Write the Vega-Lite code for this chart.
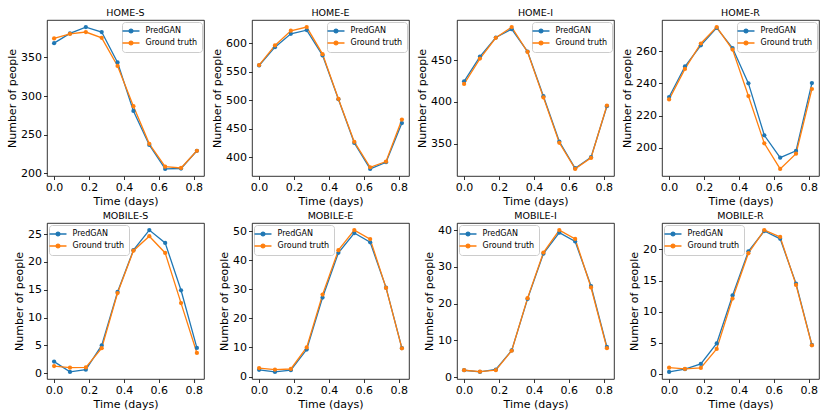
{
  "$schema": "https://vega.github.io/schema/vega-lite/v6.json",
  "background": "white",
  "padding": {"left": 6, "top": 7, "right": 5, "bottom": 5},
  "datasets": {
    "d": [
      {"p": "HOME-S", "t": 0, "PredGAN": 368.6, "Ground truth": 374.7},
      {"p": "HOME-S", "t": 0.0909, "PredGAN": 381.2, "Ground truth": 380.5},
      {"p": "HOME-S", "t": 0.1818, "PredGAN": 389.4, "Ground truth": 383},
      {"p": "HOME-S", "t": 0.2727, "PredGAN": 383, "Ground truth": 375.5},
      {"p": "HOME-S", "t": 0.3636, "PredGAN": 343.5, "Ground truth": 339},
      {"p": "HOME-S", "t": 0.4545, "PredGAN": 280.7, "Ground truth": 286.8},
      {"p": "HOME-S", "t": 0.5455, "PredGAN": 236.6, "Ground truth": 238},
      {"p": "HOME-S", "t": 0.6364, "PredGAN": 205.5, "Ground truth": 208.4},
      {"p": "HOME-S", "t": 0.7273, "PredGAN": 206, "Ground truth": 206.7},
      {"p": "HOME-S", "t": 0.8182, "PredGAN": 229, "Ground truth": 229},
      {"p": "HOME-E", "t": 0, "PredGAN": 561.3, "Ground truth": 562},
      {"p": "HOME-E", "t": 0.0909, "PredGAN": 593.5, "Ground truth": 596.5},
      {"p": "HOME-E", "t": 0.1818, "PredGAN": 617, "Ground truth": 622.3},
      {"p": "HOME-E", "t": 0.2727, "PredGAN": 623.4, "Ground truth": 628.7},
      {"p": "HOME-E", "t": 0.3636, "PredGAN": 579, "Ground truth": 581.2},
      {"p": "HOME-E", "t": 0.4545, "PredGAN": 502, "Ground truth": 502.5},
      {"p": "HOME-E", "t": 0.5455, "PredGAN": 425.2, "Ground truth": 427},
      {"p": "HOME-E", "t": 0.6364, "PredGAN": 379.5, "Ground truth": 382.4},
      {"p": "HOME-E", "t": 0.7273, "PredGAN": 391.2, "Ground truth": 392.4},
      {"p": "HOME-E", "t": 0.8182, "PredGAN": 460, "Ground truth": 466.2},
      {"p": "HOME-I", "t": 0, "PredGAN": 424.7, "Ground truth": 421.5},
      {"p": "HOME-I", "t": 0.0909, "PredGAN": 454.4, "Ground truth": 452},
      {"p": "HOME-I", "t": 0.1818, "PredGAN": 477.3, "Ground truth": 477},
      {"p": "HOME-I", "t": 0.2727, "PredGAN": 487.3, "Ground truth": 489.8},
      {"p": "HOME-I", "t": 0.3636, "PredGAN": 460.4, "Ground truth": 460},
      {"p": "HOME-I", "t": 0.4545, "PredGAN": 406.8, "Ground truth": 405.4},
      {"p": "HOME-I", "t": 0.5455, "PredGAN": 352.4, "Ground truth": 350.8},
      {"p": "HOME-I", "t": 0.6364, "PredGAN": 320.3, "Ground truth": 319.5},
      {"p": "HOME-I", "t": 0.7273, "PredGAN": 333.5, "Ground truth": 332.7},
      {"p": "HOME-I", "t": 0.8182, "PredGAN": 394.8, "Ground truth": 395.6},
      {"p": "HOME-R", "t": 0, "PredGAN": 231.5, "Ground truth": 230},
      {"p": "HOME-R", "t": 0.0909, "PredGAN": 250.5, "Ground truth": 249},
      {"p": "HOME-R", "t": 0.1818, "PredGAN": 263.7, "Ground truth": 264.8},
      {"p": "HOME-R", "t": 0.2727, "PredGAN": 274.5, "Ground truth": 275},
      {"p": "HOME-R", "t": 0.3636, "PredGAN": 262, "Ground truth": 261},
      {"p": "HOME-R", "t": 0.4545, "PredGAN": 240, "Ground truth": 232.1},
      {"p": "HOME-R", "t": 0.5455, "PredGAN": 207.7, "Ground truth": 202.7},
      {"p": "HOME-R", "t": 0.6364, "PredGAN": 193.8, "Ground truth": 186.8},
      {"p": "HOME-R", "t": 0.7273, "PredGAN": 198, "Ground truth": 196.3},
      {"p": "HOME-R", "t": 0.8182, "PredGAN": 240.2, "Ground truth": 236.5},
      {"p": "MOBILE-S", "t": 0, "PredGAN": 2.1, "Ground truth": 1.3},
      {"p": "MOBILE-S", "t": 0.0909, "PredGAN": 0.25, "Ground truth": 1.0},
      {"p": "MOBILE-S", "t": 0.1818, "PredGAN": 0.65, "Ground truth": 1.05},
      {"p": "MOBILE-S", "t": 0.2727, "PredGAN": 5.0, "Ground truth": 4.5},
      {"p": "MOBILE-S", "t": 0.3636, "PredGAN": 14.6, "Ground truth": 14.4},
      {"p": "MOBILE-S", "t": 0.4545, "PredGAN": 22.1, "Ground truth": 22.0},
      {"p": "MOBILE-S", "t": 0.5455, "PredGAN": 25.7, "Ground truth": 24.6},
      {"p": "MOBILE-S", "t": 0.6364, "PredGAN": 23.4, "Ground truth": 21.6},
      {"p": "MOBILE-S", "t": 0.7273, "PredGAN": 14.9, "Ground truth": 12.6},
      {"p": "MOBILE-S", "t": 0.8182, "PredGAN": 4.55, "Ground truth": 3.65},
      {"p": "MOBILE-E", "t": 0, "PredGAN": 2.3, "Ground truth": 2.9},
      {"p": "MOBILE-E", "t": 0.0909, "PredGAN": 1.6, "Ground truth": 2.4},
      {"p": "MOBILE-E", "t": 0.1818, "PredGAN": 2.2, "Ground truth": 2.6},
      {"p": "MOBILE-E", "t": 0.2727, "PredGAN": 9.3, "Ground truth": 10.0},
      {"p": "MOBILE-E", "t": 0.3636, "PredGAN": 27.2, "Ground truth": 28.2},
      {"p": "MOBILE-E", "t": 0.4545, "PredGAN": 42.6, "Ground truth": 43.5},
      {"p": "MOBILE-E", "t": 0.5455, "PredGAN": 49.4, "Ground truth": 50.4},
      {"p": "MOBILE-E", "t": 0.6364, "PredGAN": 46.2, "Ground truth": 47.3},
      {"p": "MOBILE-E", "t": 0.7273, "PredGAN": 30.6, "Ground truth": 30.5},
      {"p": "MOBILE-E", "t": 0.8182, "PredGAN": 9.8, "Ground truth": 9.7},
      {"p": "MOBILE-I", "t": 0, "PredGAN": 1.9, "Ground truth": 1.9},
      {"p": "MOBILE-I", "t": 0.0909, "PredGAN": 1.45, "Ground truth": 1.5},
      {"p": "MOBILE-I", "t": 0.1818, "PredGAN": 2.1, "Ground truth": 1.9},
      {"p": "MOBILE-I", "t": 0.2727, "PredGAN": 7.3, "Ground truth": 7.2},
      {"p": "MOBILE-I", "t": 0.3636, "PredGAN": 21.3, "Ground truth": 21.5},
      {"p": "MOBILE-I", "t": 0.4545, "PredGAN": 33.6, "Ground truth": 33.9},
      {"p": "MOBILE-I", "t": 0.5455, "PredGAN": 39.3, "Ground truth": 40.0},
      {"p": "MOBILE-I", "t": 0.6364, "PredGAN": 36.9, "Ground truth": 37.6},
      {"p": "MOBILE-I", "t": 0.7273, "PredGAN": 24.8, "Ground truth": 24.4},
      {"p": "MOBILE-I", "t": 0.8182, "PredGAN": 8.25, "Ground truth": 7.9},
      {"p": "MOBILE-R", "t": 0, "PredGAN": 0.32, "Ground truth": 1.0},
      {"p": "MOBILE-R", "t": 0.0909, "PredGAN": 0.75, "Ground truth": 0.8},
      {"p": "MOBILE-R", "t": 0.1818, "PredGAN": 1.6, "Ground truth": 0.95},
      {"p": "MOBILE-R", "t": 0.2727, "PredGAN": 4.9, "Ground truth": 4.0},
      {"p": "MOBILE-R", "t": 0.3636, "PredGAN": 12.6, "Ground truth": 12.1},
      {"p": "MOBILE-R", "t": 0.4545, "PredGAN": 19.7, "Ground truth": 19.4},
      {"p": "MOBILE-R", "t": 0.5455, "PredGAN": 22.95, "Ground truth": 23.1},
      {"p": "MOBILE-R", "t": 0.6364, "PredGAN": 21.7, "Ground truth": 22.0},
      {"p": "MOBILE-R", "t": 0.7273, "PredGAN": 14.5, "Ground truth": 14.3},
      {"p": "MOBILE-R", "t": 0.8182, "PredGAN": 4.65, "Ground truth": 4.6}
    ]
  },
  "columns": 4,
  "spacing": {"column": 6, "row": 3},
  "resolve": {"scale": {"x": "independent", "y": "independent"}, "legend": {"color": "independent"}},
  "concat": [
    {"title": {"text": "HOME-S", "fontWeight": 400, "fontSize": 9.5}, "width": 157, "height": 156, "data": {"name": "d"},
     "transform": [{"filter": "datum.p === 'HOME-S'"}, {"fold": ["PredGAN", "Ground truth"], "as": ["s", "v"]}],
     "mark": {"type": "line", "strokeWidth": 1.3, "point": {"filled": true, "size": 18}},
     "encoding": {
       "x": {"field": "t", "type": "quantitative", "scale": {"zero": false, "nice": false, "padding": 7.1}, "axis": {"values": [0, 0.2, 0.4, 0.6, 0.8], "format": ".1f", "title": "Time (days)"}},
       "y": {"field": "v", "type": "quantitative", "scale": {"zero": false, "nice": false, "padding": 7.1}, "axis": {"title": "Number of people"}},
       "color": {"field": "s", "type": "nominal", "sort": ["PredGAN", "Ground truth"], "scale": {"domain": ["PredGAN", "Ground truth"], "range": ["#1f77b4", "#ff7f0e"]}, "legend": {"orient": "top-right", "title": null}}
     }},
    {"title": {"text": "HOME-E", "fontWeight": 400, "fontSize": 9.5}, "width": 157, "height": 156, "data": {"name": "d"},
     "transform": [{"filter": "datum.p === 'HOME-E'"}, {"fold": ["PredGAN", "Ground truth"], "as": ["s", "v"]}],
     "mark": {"type": "line", "strokeWidth": 1.3, "point": {"filled": true, "size": 18}},
     "encoding": {
       "x": {"field": "t", "type": "quantitative", "scale": {"zero": false, "nice": false, "padding": 7.1}, "axis": {"values": [0, 0.2, 0.4, 0.6, 0.8], "format": ".1f", "title": "Time (days)"}},
       "y": {"field": "v", "type": "quantitative", "scale": {"zero": false, "nice": false, "padding": 7.1}, "axis": {"title": "Number of people"}},
       "color": {"field": "s", "type": "nominal", "sort": ["PredGAN", "Ground truth"], "scale": {"domain": ["PredGAN", "Ground truth"], "range": ["#1f77b4", "#ff7f0e"]}, "legend": {"orient": "top-right", "title": null}}
     }},
    {"title": {"text": "HOME-I", "fontWeight": 400, "fontSize": 9.5}, "width": 157, "height": 156, "data": {"name": "d"},
     "transform": [{"filter": "datum.p === 'HOME-I'"}, {"fold": ["PredGAN", "Ground truth"], "as": ["s", "v"]}],
     "mark": {"type": "line", "strokeWidth": 1.3, "point": {"filled": true, "size": 18}},
     "encoding": {
       "x": {"field": "t", "type": "quantitative", "scale": {"zero": false, "nice": false, "padding": 7.1}, "axis": {"values": [0, 0.2, 0.4, 0.6, 0.8], "format": ".1f", "title": "Time (days)"}},
       "y": {"field": "v", "type": "quantitative", "scale": {"zero": false, "nice": false, "padding": 7.1}, "axis": {"title": "Number of people"}},
       "color": {"field": "s", "type": "nominal", "sort": ["PredGAN", "Ground truth"], "scale": {"domain": ["PredGAN", "Ground truth"], "range": ["#1f77b4", "#ff7f0e"]}, "legend": {"orient": "top-right", "title": null}}
     }},
    {"title": {"text": "HOME-R", "fontWeight": 400, "fontSize": 9.5}, "width": 157, "height": 156, "data": {"name": "d"},
     "transform": [{"filter": "datum.p === 'HOME-R'"}, {"fold": ["PredGAN", "Ground truth"], "as": ["s", "v"]}],
     "mark": {"type": "line", "strokeWidth": 1.3, "point": {"filled": true, "size": 18}},
     "encoding": {
       "x": {"field": "t", "type": "quantitative", "scale": {"zero": false, "nice": false, "padding": 7.1}, "axis": {"values": [0, 0.2, 0.4, 0.6, 0.8], "format": ".1f", "title": "Time (days)"}},
       "y": {"field": "v", "type": "quantitative", "scale": {"zero": false, "nice": false, "padding": 7.1}, "axis": {"title": "Number of people"}},
       "color": {"field": "s", "type": "nominal", "sort": ["PredGAN", "Ground truth"], "scale": {"domain": ["PredGAN", "Ground truth"], "range": ["#1f77b4", "#ff7f0e"]}, "legend": {"orient": "top-right", "title": null}}
     }},
    {"title": {"text": "MOBILE-S", "fontWeight": 400, "fontSize": 9.5}, "width": 157, "height": 156, "data": {"name": "d"},
     "transform": [{"filter": "datum.p === 'MOBILE-S'"}, {"fold": ["PredGAN", "Ground truth"], "as": ["s", "v"]}],
     "mark": {"type": "line", "strokeWidth": 1.3, "point": {"filled": true, "size": 18}},
     "encoding": {
       "x": {"field": "t", "type": "quantitative", "scale": {"zero": false, "nice": false, "padding": 7.1}, "axis": {"values": [0, 0.2, 0.4, 0.6, 0.8], "format": ".1f", "title": "Time (days)"}},
       "y": {"field": "v", "type": "quantitative", "scale": {"zero": false, "nice": false, "padding": 7.1}, "axis": {"title": "Number of people"}},
       "color": {"field": "s", "type": "nominal", "sort": ["PredGAN", "Ground truth"], "scale": {"domain": ["PredGAN", "Ground truth"], "range": ["#1f77b4", "#ff7f0e"]}, "legend": {"orient": "top-left", "title": null}}
     }},
    {"title": {"text": "MOBILE-E", "fontWeight": 400, "fontSize": 9.5}, "width": 157, "height": 156, "data": {"name": "d"},
     "transform": [{"filter": "datum.p === 'MOBILE-E'"}, {"fold": ["PredGAN", "Ground truth"], "as": ["s", "v"]}],
     "mark": {"type": "line", "strokeWidth": 1.3, "point": {"filled": true, "size": 18}},
     "encoding": {
       "x": {"field": "t", "type": "quantitative", "scale": {"zero": false, "nice": false, "padding": 7.1}, "axis": {"values": [0, 0.2, 0.4, 0.6, 0.8], "format": ".1f", "title": "Time (days)"}},
       "y": {"field": "v", "type": "quantitative", "scale": {"zero": false, "nice": false, "padding": 7.1}, "axis": {"title": "Number of people"}},
       "color": {"field": "s", "type": "nominal", "sort": ["PredGAN", "Ground truth"], "scale": {"domain": ["PredGAN", "Ground truth"], "range": ["#1f77b4", "#ff7f0e"]}, "legend": {"orient": "top-left", "title": null}}
     }},
    {"title": {"text": "MOBILE-I", "fontWeight": 400, "fontSize": 9.5}, "width": 157, "height": 156, "data": {"name": "d"},
     "transform": [{"filter": "datum.p === 'MOBILE-I'"}, {"fold": ["PredGAN", "Ground truth"], "as": ["s", "v"]}],
     "mark": {"type": "line", "strokeWidth": 1.3, "point": {"filled": true, "size": 18}},
     "encoding": {
       "x": {"field": "t", "type": "quantitative", "scale": {"zero": false, "nice": false, "padding": 7.1}, "axis": {"values": [0, 0.2, 0.4, 0.6, 0.8], "format": ".1f", "title": "Time (days)"}},
       "y": {"field": "v", "type": "quantitative", "scale": {"zero": false, "nice": false, "padding": 7.1}, "axis": {"title": "Number of people"}},
       "color": {"field": "s", "type": "nominal", "sort": ["PredGAN", "Ground truth"], "scale": {"domain": ["PredGAN", "Ground truth"], "range": ["#1f77b4", "#ff7f0e"]}, "legend": {"orient": "top-left", "title": null}}
     }},
    {"title": {"text": "MOBILE-R", "fontWeight": 400, "fontSize": 9.5}, "width": 157, "height": 156, "data": {"name": "d"},
     "transform": [{"filter": "datum.p === 'MOBILE-R'"}, {"fold": ["PredGAN", "Ground truth"], "as": ["s", "v"]}],
     "mark": {"type": "line", "strokeWidth": 1.3, "point": {"filled": true, "size": 18}},
     "encoding": {
       "x": {"field": "t", "type": "quantitative", "scale": {"zero": false, "nice": false, "padding": 7.1}, "axis": {"values": [0, 0.2, 0.4, 0.6, 0.8], "format": ".1f", "title": "Time (days)"}},
       "y": {"field": "v", "type": "quantitative", "scale": {"zero": false, "nice": false, "padding": 7.1}, "axis": {"title": "Number of people"}},
       "color": {"field": "s", "type": "nominal", "sort": ["PredGAN", "Ground truth"], "scale": {"domain": ["PredGAN", "Ground truth"], "range": ["#1f77b4", "#ff7f0e"]}, "legend": {"orient": "top-left", "title": null}}
     }}
  ],
  "config": {
    "font": "DejaVu Sans",
    "view": {"stroke": "black", "strokeWidth": 0.8},
    "title": {"fontSize": 9.5, "fontWeight": "normal", "color": "black", "offset": 3, "font": "DejaVu Sans"},
    "style": {"group-title": {"fontSize": 9.5, "fontWeight": "normal", "color": "black", "font": "DejaVu Sans"}},
    "axis": {
      "domain": false, "grid": false, "ticks": true, "tickColor": "black", "tickSize": 3.5, "tickWidth": 0.8,
      "labelFont": "DejaVu Sans", "labelFontSize": 11, "labelColor": "black", "labelPadding": 2, "labelFlush": false, "labelOverlap": false,
      "titleFont": "DejaVu Sans", "titleFontSize": 11, "titleFontWeight": "normal", "titleColor": "black", "titlePadding": 3
    },
    "legend": {
      "labelFont": "DejaVu Sans", "labelFontSize": 8, "labelColor": "black", "labelOffset": 9.5,
      "padding": 4, "rowPadding": 2, "offset": 2,
      "fillColor": "rgba(255,255,255,0.8)", "strokeColor": "#cccccc", "cornerRadius": 3,
      "symbolType": "M-2,0H2M0.45,0A0.45,0.45 0 1,1 -0.45,0A0.45,0.45 0 1,1 0.45,0",
      "symbolSize": 72, "symbolStrokeWidth": 1.3
    }
  }
}
